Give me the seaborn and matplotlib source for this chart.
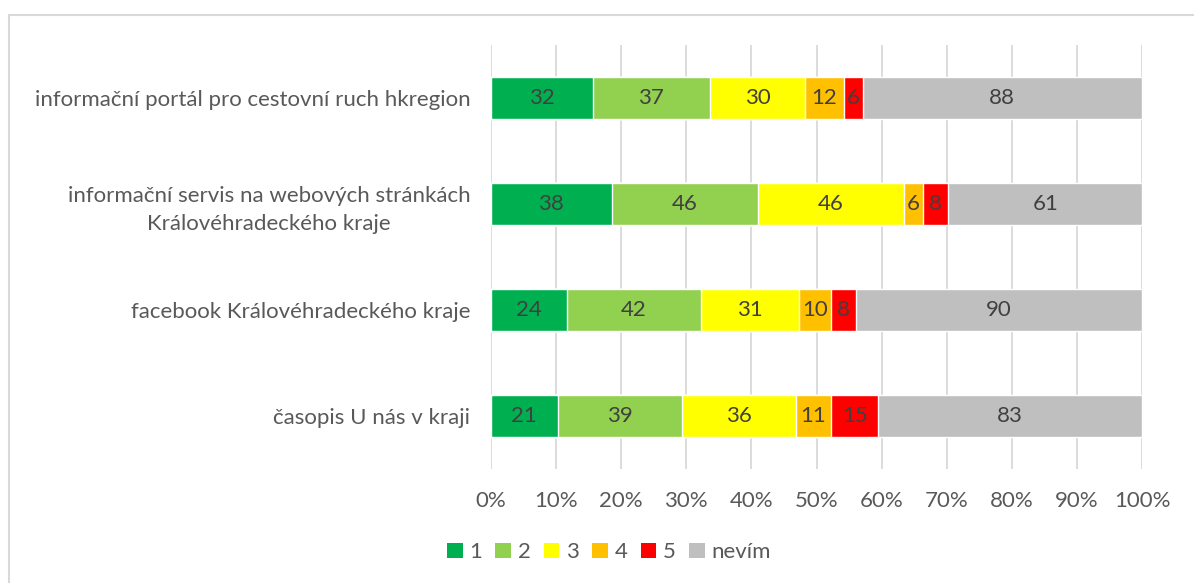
import numpy as np
import pandas as pd
import seaborn as sns
import matplotlib.pyplot as plt
from matplotlib.patches import Rectangle, Patch

categories = [
    "informační portál pro cestovní ruch hkregion",
    "informační servis na webových stránkách\nKrálovéhradeckého kraje",
    "facebook Královéhradeckého kraje",
    "časopis U nás v kraji",
]
series = ["1", "2", "3", "4", "5", "nevím"]
val_1 = [32, 38, 24, 21]
val_2 = [37, 46, 42, 39]
val_3 = [30, 46, 31, 36]
val_4 = [12, 6, 10, 11]
val_5 = [6, 8, 8, 15]
val_nevim = [88, 61, 90, 83]
colors = ["#00B050", "#92D050", "#FFFF00", "#FFC000", "#FF0000", "#BFBFBF"]

sns.set_theme(style="white")
plt.rcParams['font.family'] = ['Lato', 'DejaVu Sans']
FS = 16

df = pd.DataFrame(
    np.array([val_1, val_2, val_3, val_4, val_5, val_nevim]).T,
    index=categories, columns=series,
)
pct = df.div(df.sum(axis=1), axis=0) * 100
cum = pct.cumsum(axis=1)

fig = plt.figure(figsize=(11.94, 5.83), dpi=100)
ax = fig.add_axes([0.4112, 0.1955, 0.5453, 0.7273])

# layered cumulative bars, widest first
for s, c in reversed(list(zip(series, colors))):
    sns.barplot(x=cum[s].values, y=categories, orient="h", color=c,
                width=0.4, ax=ax, saturation=1, zorder=2)

# data labels
left = cum - pct
for s in series:
    for i, cat in enumerate(categories):
        ax.text(left.loc[cat, s] + pct.loc[cat, s] / 2, i, str(df.loc[cat, s]),
                ha="center", va="center", fontsize=FS, color="#404040", zorder=3)

ax.set_xlim(0, 100)
ax.set_xticks(np.arange(0, 101, 10))
ax.set_xticklabels([f"{t}%" for t in range(0, 101, 10)])
ax.grid(axis="x", color="#D9D9D9", linewidth=1.3, zorder=0)
ax.set_axisbelow(True)
for sp in ax.spines.values():
    sp.set_visible(False)
ax.tick_params(axis="both", length=0, labelsize=FS, colors="#595959")
ax.tick_params(axis="y", pad=15)
ax.tick_params(axis="x", pad=16)
for lbl in ax.get_yticklabels():
    lbl.set_horizontalalignment("right")
    lbl.set_multialignment("center")
    lbl.set_linespacing(1.5)
ax.set_xlabel("")
ax.set_ylabel("")

handles = [Patch(facecolor=c, edgecolor="none") for c in colors]
fig.legend(handles, series, loc="center", bbox_to_anchor=(0.51, 0.053), ncol=6,
           frameon=False, fontsize=FS, handlelength=0.7, handleheight=0.7,
           handletextpad=0.3, columnspacing=0.6, labelcolor="#595959")

fig.patches.append(Rectangle((9 / 1194, -0.1), 1.2, 1 - 15 / 583 + 0.1,
                             transform=fig.transFigure, fill=False,
                             edgecolor="#D9D9D9", linewidth=1.5))

fig.savefig("out.png", dpi=100)
